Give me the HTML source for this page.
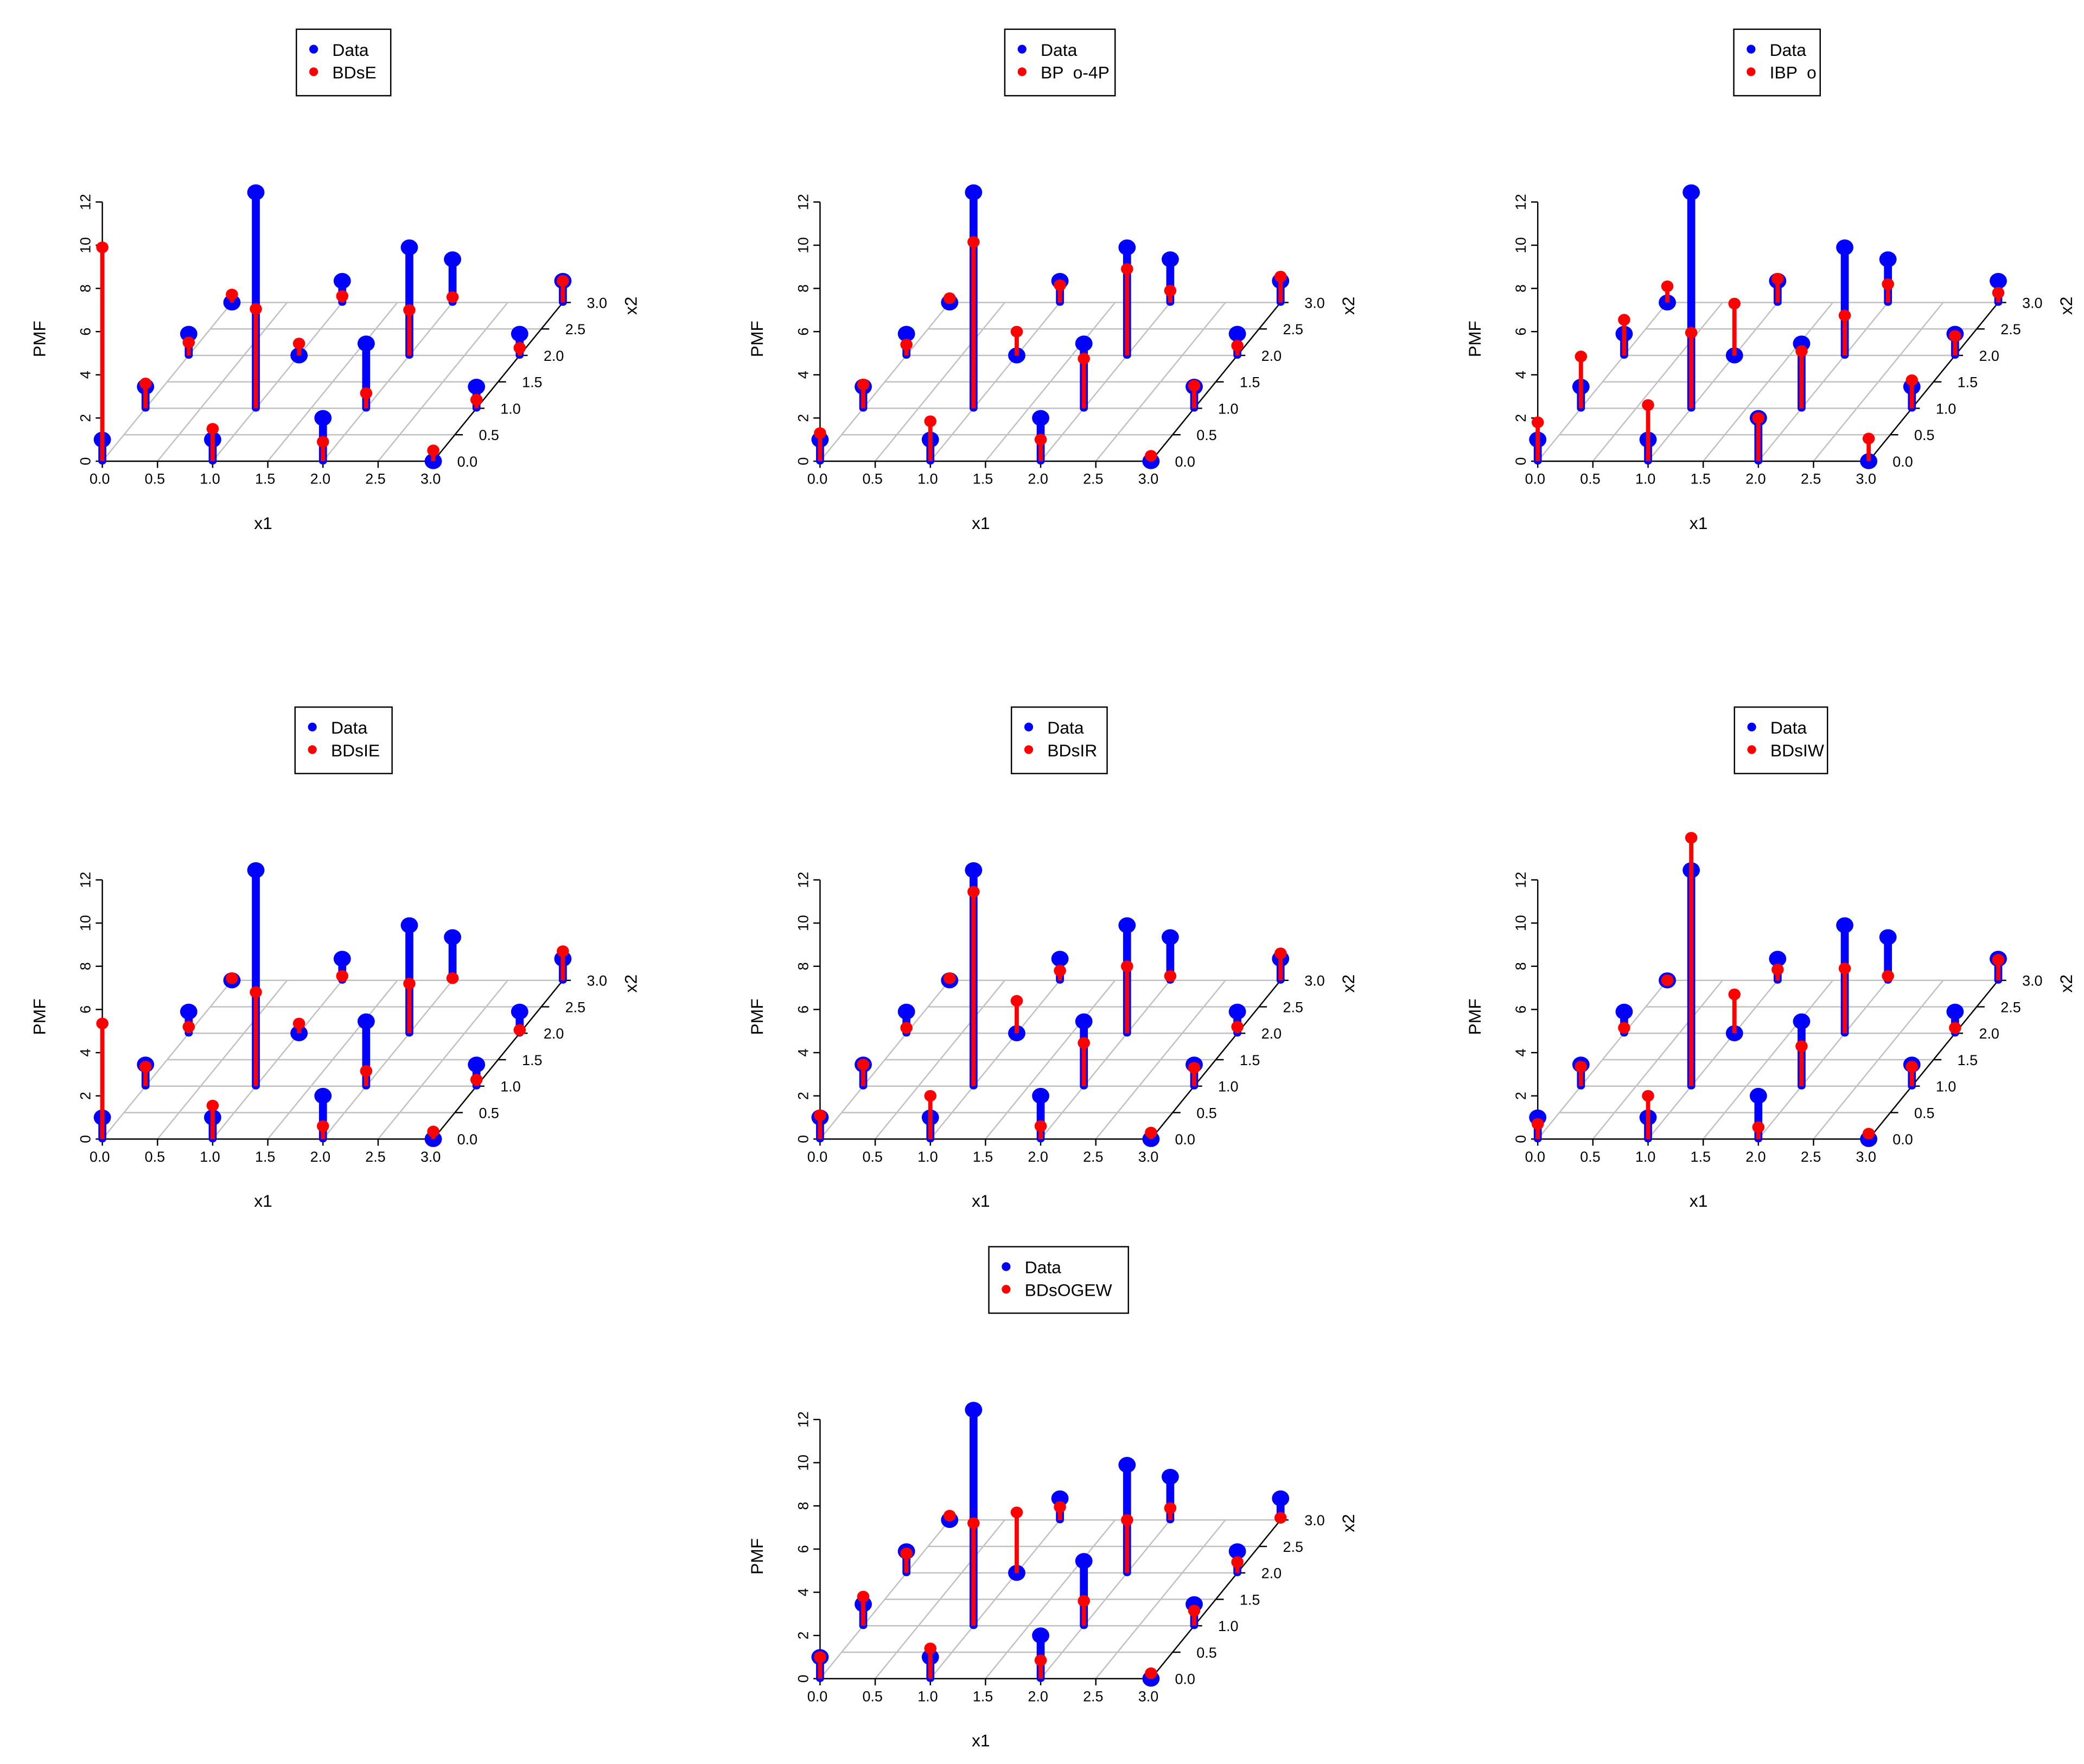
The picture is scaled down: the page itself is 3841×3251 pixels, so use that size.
<!DOCTYPE html>
<html><head><meta charset="utf-8"><style>html,body{margin:0;padding:0;background:#fff}svg{display:block}</style></head>
<body>
<svg id="chart" xmlns="http://www.w3.org/2000/svg" width="3841" height="3251" viewBox="0 0 1568 1327.2" preserveAspectRatio="none" font-family="Liberation Sans, Arial, sans-serif"></svg>
<script>
// Data: grid of x1 (0..3) by x2 (0..3); values indexed [x2][x1]
const x1Cats = [0, 1, 2, 3];
const x2Cats = [0, 1, 2, 3];
const zTicks = [0, 2, 4, 6, 8, 10, 12];
const axTicks = ["0.0", "0.5", "1.0", "1.5", "2.0", "2.5", "3.0"];
const dataValues = [[1, 1, 2, 0], [1, 10, 3, 1], [1, 0, 5, 1], [0, 1, 2, 1]];
const modelNames = ["BDsE", "BP  o-4P", "IBP  o", "BDsIE", "BDsIR", "BDsIW", "BDsOGEW"];
const fitBDsE = [[9.9, 1.5, 0.9, 0.5], [1.15, 4.6, 0.7, 0.4], [0.6, 0.55, 2.1, 0.35], [0.37, 0.3, 0.25, 1.0]];
const fitBPo4P = [[1.3, 1.85, 1.0, 0.25], [1.1, 7.7, 2.3, 1.05], [0.5, 1.1, 4.0, 0.45], [0.2, 0.8, 0.55, 1.2]];
const fitIBPo = [[1.8, 2.6, 2.0, 1.05], [2.4, 3.5, 2.65, 1.3], [1.65, 2.4, 1.85, 0.9], [0.75, 1.1, 0.85, 0.45]];
const fitBDsIE = [[5.35, 1.55, 0.6, 0.35], [0.9, 4.35, 0.7, 0.3], [0.3, 0.45, 2.3, 0.15], [0.1, 0.2, 0.1, 1.35]];
const fitBDsIR = [[1.1, 2.0, 0.6, 0.3], [1.0, 9.0, 2.0, 0.85], [0.25, 1.5, 3.1, 0.3], [0.1, 0.45, 0.2, 1.25]];
const fitBDsIW = [[0.7, 2.0, 0.55, 0.25], [0.9, 11.5, 1.85, 0.9], [0.25, 1.8, 3.0, 0.25], [0.0, 0.5, 0.2, 0.95]];
const fitBDsOGEW = [[1.0, 1.4, 0.85, 0.25], [1.35, 4.75, 1.15, 0.7], [0.9, 2.8, 2.45, 0.5], [0.2, 0.6, 0.55, 0.1]];
const fits = [fitBDsE, fitBPo4P, fitIBPo, fitBDsIE, fitBDsIR, fitBDsIW, fitBDsOGEW];

const NS = "http://www.w3.org/2000/svg";
const svg = document.getElementById("chart");
const offsets = [[0,0],[540,0],[1080,0],[0,510],[540,510],[1080,510],[540,916]];
const legendW = [71, 83, 65, 73, 72, 70, 105];
const legendCx = [258.5, 257.5, 257, 258.5, 257, 260, 256.5];
function mk(tag, attrs, parent, text) {
  const e = document.createElementNS(NS, tag);
  for (const k in attrs) e.setAttribute(k, attrs[k]);
  if (text !== undefined) e.textContent = text;
  parent.appendChild(e);
  return e;
}
modelNames.forEach((name, p) => {
  const ox = offsets[p][0], oy = offsets[p][1];
  const X0 = 77 + ox, Y0 = 347 + oy, SX = 83, DX2 = 32.5, DY2 = -39.8, SZ = 16.25;
  const px = (a, b) => X0 + SX * a + DX2 * b;
  const py = (b, z) => Y0 + DY2 * b - SZ * z;
  const g = mk("g", {}, svg);
  
  
  const grid = mk("g", {stroke: "#c0c0c0", "stroke-width": 1}, g);
  
  
  for (let i = 0; i <= 6; i++) {
    const t = i / 2;
    mk("line", {x1: px(0, t), y1: py(t, 0), x2: px(3, t), y2: py(t, 0)}, grid);
    mk("line", {x1: px(t, 0), y1: py(0, 0), x2: px(t, 3), y2: py(3, 0)}, grid);
  }
  const ax = mk("g", {stroke: "#000", "stroke-width": 1, fill: "none"}, g);
  
  
  mk("line", {x1: px(0,0), y1: py(0,0), x2: px(3,0), y2: py(0,0)}, ax);
  mk("line", {x1: px(3,0), y1: py(0,0), x2: px(3,3), y2: py(3,0)}, ax);
  mk("line", {x1: X0, y1: py(0,0), x2: X0, y2: py(0,12)}, ax);
  const tg = mk("g", {"font-size": 11, fill: "#000"}, g);
  
  
  zTicks.forEach(z => {
    mk("line", {x1: X0 - 5, y1: py(0, z), x2: X0, y2: py(0, z), stroke: "#000"}, g);
    const y = py(0, z);
    mk("text", {x: X0 - 9, y: y, transform: `rotate(-90 ${X0 - 9} ${y})`, "text-anchor": "middle"}, tg, String(z));
  });
  axTicks.forEach((lab, i) => {
    const t = i / 2;
    mk("line", {x1: px(t,0), y1: Y0, x2: px(t,0), y2: Y0 + 5, stroke: "#000"}, g);
    mk("text", {x: px(t,0) - 2, y: Y0 + 17, "text-anchor": "middle"}, tg, lab);
    mk("line", {x1: px(3,t), y1: py(t,0), x2: px(3,t) + 6, y2: py(t,0), stroke: "#000"}, g);
    mk("text", {x: px(3,t) + 18, y: py(t,0) + 4}, tg, lab);
  });
  const lt = mk("g", {"font-size": 13, fill: "#000"}, g);
  
  
  mk("text", {x: 198 + ox, y: 398 + oy, "text-anchor": "middle"}, lt, "x1");
  mk("text", {x: 34 + ox, y: 255 + oy, transform: `rotate(-90 ${34 + ox} ${255 + oy})`, "text-anchor": "middle"}, lt, "PMF");
  mk("text", {x: 479 + ox, y: 230 + oy, transform: `rotate(-90 ${479 + ox} ${230 + oy})`, "text-anchor": "middle"}, lt, "x2");
  const fit = fits[p];
  x2Cats.forEach(b => x1Cats.forEach(a => {
    const x = px(a, b), yb = py(b, 0), yt = py(b, dataValues[b][a]);
    const s = mk("line", {x1: x, y1: yb, x2: x, y2: yt, stroke: "#0000ff", "stroke-width": 6}, g);
    
    
    mk("ellipse", {cx: x, cy: yb, rx: 3, ry: 2.5, fill: "#0000ff"}, g);
    const c = mk("ellipse", {cx: x, cy: yt, rx: 6.5, ry: 6, fill: "#0000ff"}, g);
    
    
  }));
  x2Cats.forEach(b => x1Cats.forEach(a => {
    const x = px(a, b), yb = py(b, 0), yt = py(b, fit[b][a]);
    const s = mk("line", {x1: x, y1: yb, x2: x, y2: yt, stroke: "#ff0000", "stroke-width": 3.2}, g);
    
    
    const c = mk("ellipse", {cx: x, cy: yt, rx: 4.6, ry: 4.4, fill: "#ff0000"}, g);
    
    
  }));
  const w = legendW[p], lx = legendCx[p] + ox - w / 2, ly = 22 + oy;
  const lg = mk("g", {}, g);
  
  
  mk("rect", {x: lx, y: ly, width: w, height: 50, fill: "#fff", stroke: "#000", "stroke-width": 1}, lg);
  mk("ellipse", {cx: lx + 13, cy: ly + 15, rx: 3.3, ry: 3.3, fill: "#0000ff"}, lg);
  mk("ellipse", {cx: lx + 13, cy: ly + 32, rx: 3.3, ry: 3.3, fill: "#ff0000"}, lg);
  const e1 = mk("text", {x: lx + 27, y: ly + 20, "font-size": 13}, lg, "Data");
  
  
  const e2 = mk("text", {x: lx + 27, y: ly + 37, "font-size": 13}, lg, name);
  
  
  e2.style.whiteSpace = "pre";
});
</script>
</body></html>
